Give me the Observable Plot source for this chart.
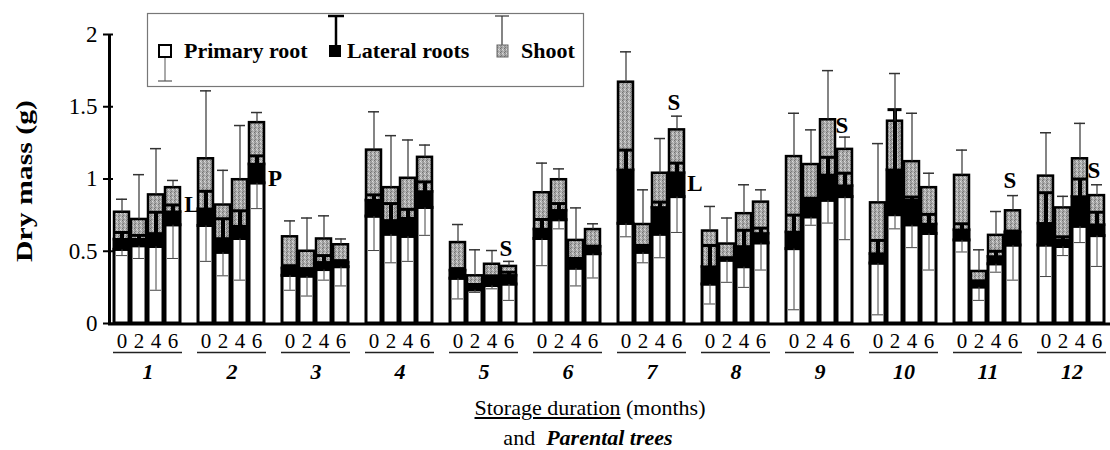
<!DOCTYPE html>
<html>
<head>
<meta charset="utf-8">
<script src="https://cdn.jsdelivr.net/npm/d3@7"></script>
<script src="https://cdn.jsdelivr.net/npm/@observablehq/plot@0.6"></script>
<style>
  html, body { margin: 0; padding: 0; background: #fff; }
  #wrap { position: relative; width: 1110px; height: 450px; font-family: "Liberation Serif", "Times New Roman", serif; color: #000; }
  #wrap svg { display: block; }
  #wrap svg text { font-family: "Liberation Serif", "Times New Roman", serif; }
  .bottom { position: absolute; white-space: nowrap; font-size: 22px; line-height: 22px; transform: translateX(-50%); }
</style>
</head>
<body>
<div id="wrap"></div>
<script>
// ---- data ----
const trees = ["1","2","3","4","5","6","7","8","9","10","11","12"];
const durations = [0, 2, 4, 6];
// per tree, durations 0,2,4,6
const primaryRoot = [
  0.51,0.535,0.53,0.68,  0.675,0.49,0.585,0.97,  0.33,0.325,0.37,0.39,  0.74,0.615,0.60,0.80,
  0.31,0.23,0.26,0.27,   0.585,0.715,0.38,0.48,  0.69,0.49,0.615,0.875, 0.27,0.435,0.39,0.555,
  0.515,0.735,0.85,0.875, 0.415,0.75,0.68,0.62,  0.575,0.25,0.41,0.54,  0.54,0.53,0.67,0.605
];
const lateralRoots = [
  0.07,0.045,0.09,0.09,  0.115,0.095,0.085,0.13, 0.05,0.04,0.05,0.03,  0.11,0.095,0.125,0.11,
  0.055,0.03,0.05,0.06,  0.065,0.065,0.055,0.05, 0.37,0.04,0.185,0.165, 0.12,0.015,0.14,0.065,
  0.115,0.13,0.175,0.075, 0.065,0.31,0.17,0.065, 0.07,0.03,0.05,0.09,  0.15,0.045,0.205,0.075
];
const shoot = [
  0.19,0.14,0.27,0.17,   0.35,0.235,0.325,0.29,  0.22,0.135,0.165,0.125, 0.35,0.23,0.28,0.24,
  0.195,0.07,0.10,0.065, 0.255,0.215,0.14,0.12,  0.61,0.155,0.24,0.30,   0.25,0.10,0.23,0.22,
  0.525,0.235,0.385,0.255, 0.355,0.34,0.27,0.255, 0.38,0.08,0.15,0.15,  0.33,0.225,0.265,0.205
];
const primarySE = [
  0.04,0.085,0.30,0.23,  0.245,0.16,0.285,0.175, 0.10,0.135,0.07,0.13,  0.235,0.195,0.17,0.19,
  0.14,0.015,0.02,0.11,  0.185,0.06,0.12,0.165,  0.09,0.07,0.16,0.245,  0.135,0.15,0.14,0.185,
  0.42,0.055,0.155,0.295, 0.355,0.095,0.155,0.25, 0.08,0.09,0.055,0.24, 0.215,0.06,0.11,0.21
];
const lateralSE = [
  0.05,0.03,0.15,0.05,   0.125,0.14,0.11,0.06,   0.02,0.015,0.05,0.015, 0.04,0.12,0.065,0.07,
  0.015,0.01,0.02,0.025, 0.07,0.05,0.015,0.005,  0.14,0.01,0.04,0.07,   0.15,0.005,0.115,0.04,
  0.12,0.0,0.125,0.09,   0.095,0.42,0.025,0.07,  0.045,0.015,0.04,0.01, 0.215,0.025,0.125,0.09
];
const shootSE = [
  0.09,0.31,0.32,0.05,   0.47,0.24,0.375,0.07,   0.11,0.23,0.16,0.04,   0.265,0.36,0.265,0.085,
  0.125,0.18,0.095,0.035, 0.205,0.075,0.225,0.04, 0.21,0.24,0.24,0.095, 0.17,0.18,0.20,0.085,
  0.30,0.24,0.34,0.085,  0.41,0.33,0.335,0.10,   0.175,0.15,0.165,0.105, 0.30,0.08,0.245,0.075
];
const yTicks = [0, 0.5, 1, 1.5, 2];
// significance letters
const noteLetter = ["L","P","S","S","L","S","S","S"];
const noteTree   = ["2","2","5","7","7","9","11","12"];
const noteDur    = [0, 6, 6, 6, 6, 6, 6, 6];
const noteValue  = [0.82, 1.0, 0.52, 1.53, 0.97, 1.37, 0.99, 1.06];
const noteSide   = ["left","right","above","above","right","above","above","above"];

// ---- build table ----
const rows = [];
trees.forEach((t, i) => durations.forEach((d, j) => {
  const k = i * 4 + j;
  const p = primaryRoot[k], l = p + lateralRoots[k], s = l + shoot[k];
  rows.push({tree: t, dur: d, p, l, s,
    pErr: p - primarySE[k], lErr: l + lateralSE[k], sErr: s + shootSE[k]});
}));
const notes = noteLetter.map((t, i) => ({text: t, tree: noteTree[i], dur: noteDur[i], y: noteValue[i], side: noteSide[i]}));

const FONT = '"Liberation Serif", "Times New Roman", serif';

const chart = Plot.plot({
  width: 1110,
  height: 395,
  marginLeft: 111,
  marginRight: 2,
  marginTop: 34,
  marginBottom: 72,
  style: {fontFamily: FONT, fontSize: "21px", color: "#000", background: "transparent"},
  fx: {domain: trees, paddingInner: 0.176, paddingOuter: 0, label: null},
  x: {domain: durations, paddingInner: 0.1, paddingOuter: 0.02, label: null},
  y: {domain: [0, 2], label: null},
  marks: [
    Plot.barY(rows, {fx: "tree", x: "dur", y1: 0, y2: "p", fill: "white", stroke: "black", strokeWidth: 3}),
    Plot.barY(rows, {fx: "tree", x: "dur", y1: "p", y2: "l", fill: "black", stroke: "black", strokeWidth: 3}),
    Plot.barY(rows, {fx: "tree", x: "dur", y1: "l", y2: "s", fill: "url(#stip)", stroke: "black", strokeWidth: 2.5}),
    // primary root error (downwards)
    Plot.ruleX(rows, {fx: "tree", x: "dur", y1: "p", y2: "pErr", stroke: "#444", strokeWidth: 1}),
    Plot.tickY(rows, {fx: "tree", x: "dur", y: "pErr", stroke: "#444", strokeWidth: 1, insetLeft: 2, insetRight: 2}),
    // lateral roots error (thick, upwards)
    Plot.ruleX(rows, {fx: "tree", x: "dur", y1: "l", y2: "lErr", stroke: "black", strokeWidth: 4}),
    Plot.tickY(rows, {fx: "tree", x: "dur", y: "lErr", stroke: "black", strokeWidth: 3, insetLeft: 0.5, insetRight: 0.5}),
    // shoot error (thin, upwards)
    Plot.ruleX(rows, {fx: "tree", x: "dur", y1: "s", y2: "sErr", stroke: "#333", strokeWidth: 1.2}),
    Plot.tickY(rows, {fx: "tree", x: "dur", y: "sErr", stroke: "#333", strokeWidth: 1.5, insetLeft: 2, insetRight: 2}),
    // letters
    Plot.text(notes.filter(d => d.side === "left"), {fx: "tree", x: "dur", y: "y", text: "text", dx: -14, fontSize: 23, fontWeight: "bold"}),
    Plot.text(notes.filter(d => d.side === "right"), {fx: "tree", x: "dur", y: "y", text: "text", dx: 18, fontSize: 23, fontWeight: "bold"}),
    Plot.text(notes.filter(d => d.side === "above"), {fx: "tree", x: "dur", y: "y", text: "text", dx: -3, fontSize: 23, fontWeight: "bold"}),
    // underline under duration labels
    Plot.ruleY([0], {dy: 29, stroke: "#222", strokeWidth: 1.5}),
    Plot.axisY({ticks: yTicks, tickFormat: d => String(d), tickSize: 10, tickPadding: 6, fontSize: 23, label: null, strokeWidth: 2}),
    Plot.axisX({anchor: "bottom", tickSize: 0, tickPadding: 10, fontSize: 21, label: null}),
    Plot.axisFx({anchor: "bottom", tickSize: 0, tickPadding: 40, fontSize: 22, fontWeight: "bold", fontStyle: "italic", label: null})
  ]
});

const wrap = document.getElementById("wrap");
wrap.appendChild(chart);

const svg = d3.select(chart);
svg.selectAll("text").style("font-family", FONT);
// stipple pattern for the shoot segments
const defs = svg.insert("defs", ":first-child");
const pat = defs.append("pattern").attr("id", "stip").attr("width", 4).attr("height", 4).attr("patternUnits", "userSpaceOnUse");
pat.append("rect").attr("width", 4).attr("height", 4).attr("fill", "#aaaaaa");
[[0,0,"#6e6e6e"],[2,1,"#dcdcdc"],[1,3,"#7a7a7a"],[3,2,"#cfcfcf"],[1,1,"#8e8e8e"],[3,0,"#c4c4c4"],[0,2,"#939393"]].forEach(([x,y,c]) =>
  pat.append("rect").attr("x", x).attr("y", y).attr("width", 1).attr("height", 1).attr("fill", c));

// axis lines from the plot's y scale
const ys = chart.scale("y");
const y0 = ys.apply(0), y2 = ys.apply(2);
svg.append("line").attr("x1", 109.5).attr("x2", 109.5).attr("y1", y0 + 1).attr("y2", y2)
  .attr("stroke", "black").attr("stroke-width", 3);
svg.append("line").attr("x1", 108).attr("x2", 1110).attr("y1", y0 + 1).attr("y2", y0 + 1)
  .attr("stroke", "black").attr("stroke-width", 3);
svg.selectAll("[aria-label='fx-axis tick label'] text")
  .style("font-weight", "bold").style("font-style", "italic");

// overlay: legend + y-axis title
const ov = d3.select(wrap).append("svg")
  .attr("width", 1110).attr("height", 395)
  .style("position", "absolute").style("left", "0px").style("top", "0px");
ov.append("text")
  .attr("transform", "translate(24,181) rotate(-90)")
  .attr("text-anchor", "middle").attr("dy", "0.32em")
  .attr("font-size", 24).attr("font-weight", "bold")
  .attr("textLength", 162).attr("lengthAdjust", "spacingAndGlyphs")
  .text("Dry mass (g)");

const lg = ov.append("g");
lg.append("rect").attr("x", 147.5).attr("y", 13.5).attr("width", 436).attr("height", 73)
  .attr("fill", "none").attr("stroke", "#777").attr("stroke-width", 1.2);
// primary root
lg.append("line").attr("x1", 165).attr("x2", 165).attr("y1", 57).attr("y2", 81).attr("stroke", "#555").attr("stroke-width", 1);
lg.append("line").attr("x1", 158).attr("x2", 172).attr("y1", 81).attr("y2", 81).attr("stroke", "#555").attr("stroke-width", 1.2);
lg.append("rect").attr("x", 159).attr("y", 45).attr("width", 12).attr("height", 12).attr("fill", "white").attr("stroke", "black").attr("stroke-width", 2);
lg.append("text").attr("x", 184).attr("y", 58).attr("font-size", 22).attr("font-weight", "bold").text("Primary root");
// lateral roots
lg.append("line").attr("x1", 336).attr("x2", 336).attr("y1", 50).attr("y2", 16).attr("stroke", "black").attr("stroke-width", 2.5);
lg.append("line").attr("x1", 328).attr("x2", 344).attr("y1", 16).attr("y2", 16).attr("stroke", "black").attr("stroke-width", 2.5);
lg.append("rect").attr("x", 329).attr("y", 45).attr("width", 12).attr("height", 12).attr("fill", "black");
lg.append("text").attr("x", 347).attr("y", 58).attr("font-size", 22).attr("font-weight", "bold").text("Lateral roots");
// shoot
lg.append("line").attr("x1", 502).attr("x2", 502).attr("y1", 45).attr("y2", 16).attr("stroke", "#333").attr("stroke-width", 1.2);
lg.append("line").attr("x1", 495).attr("x2", 509).attr("y1", 16).attr("y2", 16).attr("stroke", "#333").attr("stroke-width", 1.2);
lg.append("rect").attr("x", 497).attr("y", 45).attr("width", 11).attr("height", 12).attr("fill", "url(#stip)").attr("stroke", "#666").attr("stroke-width", 1);
lg.append("text").attr("x", 521).attr("y", 58).attr("font-size", 22).attr("font-weight", "bold").text("Shoot");
ov.selectAll("text").style("font-family", FONT);

// bottom titles
const b1 = document.createElement("div");
b1.className = "bottom"; b1.style.left = "590px"; b1.style.top = "397px";
b1.innerHTML = '<span style="text-decoration:underline">Storage duration</span> (months)';
wrap.appendChild(b1);
const b2 = document.createElement("div");
b2.className = "bottom"; b2.style.left = "588px"; b2.style.top = "427px";
b2.innerHTML = 'and&nbsp; <b><i>Parental trees</i></b>';
wrap.appendChild(b2);
</script>
</body>
</html>
